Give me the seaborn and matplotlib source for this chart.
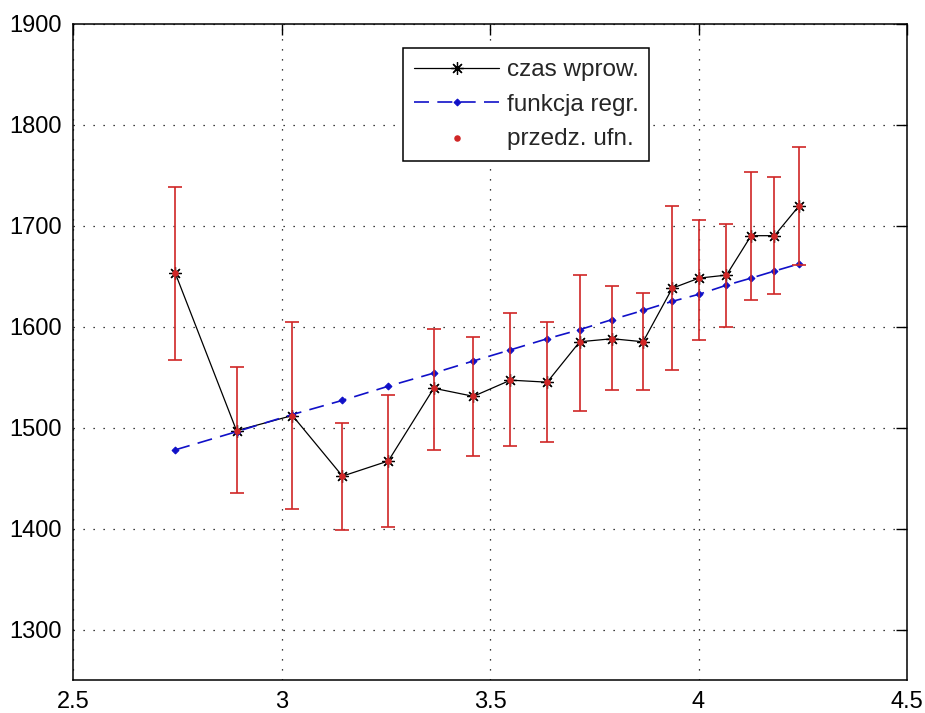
import matplotlib
matplotlib.use("Agg")
import matplotlib.pyplot as plt
import seaborn as sns
import pandas as pd

# dane
x_vals = [2.745, 2.892, 3.026, 3.146, 3.256, 3.365, 3.460, 3.549, 3.637,
          3.715, 3.793, 3.867, 3.937, 4.001, 4.067, 4.126, 4.182, 4.240]
czas_wprow = [1653, 1497, 1512, 1452, 1467, 1539, 1531, 1547, 1545,
              1585, 1588, 1585, 1638, 1648, 1651, 1690, 1690, 1719]
funkcja_regr = [1478, 1496, 1513, 1527, 1541, 1554, 1566, 1577, 1588,
                1597, 1607, 1616, 1625, 1632, 1641, 1648, 1655, 1662]
ci_low = [1567, 1435, 1419, 1399, 1402, 1478, 1472, 1482, 1486,
          1516, 1537, 1537, 1557, 1587, 1600, 1626, 1632, 1661]
ci_high = [1738, 1560, 1605, 1505, 1532, 1598, 1590, 1613, 1605,
           1651, 1640, 1633, 1719, 1706, 1702, 1753, 1748, 1778]

x_ticks = [2.5, 3, 3.5, 4, 4.5]
x_tick_labels = ["2.5", "3", "3.5", "4", "4.5"]
y_ticks = [1300, 1400, 1500, 1600, 1700, 1800, 1900]

df = pd.DataFrame({"x": x_vals, "czas": czas_wprow, "regr": funkcja_regr,
                   "lo": ci_low, "hi": ci_high})

sns.set_style("white")
plt.rcParams['font.family'] = ['Liberation Sans', 'DejaVu Sans']

fig = plt.figure(figsize=(9.25, 7.13), dpi=100)
ax = fig.add_axes([0.079, 0.046, 0.9016, 0.921])

red = "#d02626"

sns.lineplot(data=df, x="x", y="czas", ax=ax, color="black", linewidth=0.9,
             marker=(8, 2, 0), markersize=9, markeredgecolor="black",
             markeredgewidth=0.9, label="czas wprow.", sort=False)
sns.lineplot(data=df, x="x", y="regr", ax=ax, color="#1010c8", linewidth=1.2,
             dashes=False, linestyle=(0, (9, 5)), marker="D", markersize=3.5,
             markeredgecolor="#1010c8", markerfacecolor="#1010c8",
             label="funkcja regr.", sort=False)

yerr = [df["czas"] - df["lo"], df["hi"] - df["czas"]]
ax.errorbar(df["x"], df["czas"], yerr=yerr, fmt="none", ecolor=red,
            elinewidth=1.2, capsize=4.8, capthick=1.2, zorder=3)
sns.scatterplot(data=df, x="x", y="czas", ax=ax, color=red, marker="o", s=22,
                edgecolor=red, linewidth=0, label="przedz. ufn.", zorder=4)

ax.set_xlim(2.5, 4.5)
ax.set_ylim(1250, 1900)
ax.set_xticks(x_ticks)
ax.set_xticklabels(x_tick_labels)
ax.set_yticks(y_ticks)
ax.set_xlabel("")
ax.set_ylabel("")

ax.grid(True, color="black", linestyle=(0, (1, 7)), linewidth=0.9)
ax.tick_params(direction="in", length=8, width=1.0, top=True, right=True,
               labelsize=17, colors="black", pad=8)
for sp in ax.spines.values():
    sp.set_visible(True)
    sp.set_color("black")
    sp.set_linewidth(1.1)

leg = ax.legend(loc="upper left", bbox_to_anchor=(0.396, 0.962), fontsize=17.5,
                frameon=True, fancybox=False, edgecolor="black",
                handlelength=3.5, borderpad=0.45, labelspacing=0.5,
                handletextpad=0.3, borderaxespad=0)
leg.get_frame().set_linewidth(1.1)
leg.get_frame().set_alpha(1)

fig.savefig("out.png", dpi=100)
